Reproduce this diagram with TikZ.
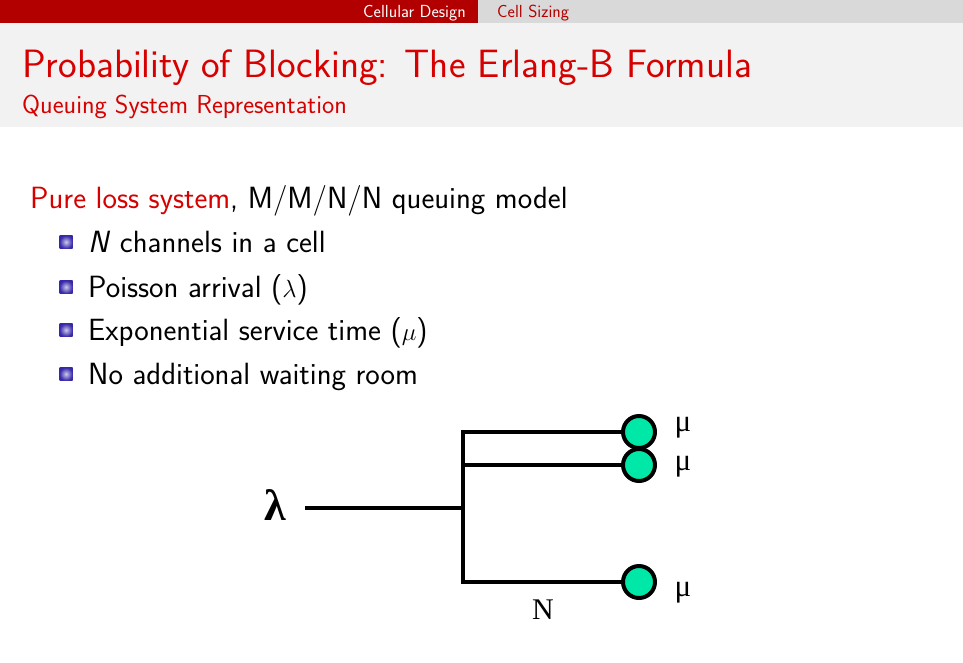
\documentclass[tikz,border=0pt]{standalone}
\usepackage{fontspec}
\newfontfamily\figfont{Liberation Serif}
\usetikzlibrary{positioning}
\definecolor{barred}{RGB}{178,0,0}
\definecolor{titlered}{RGB}{215,0,0}
\definecolor{bargray}{RGB}{217,217,217}
\definecolor{titlebg}{RGB}{242,242,242}
\definecolor{servergreen}{RGB}{0,232,168}
\definecolor{bulletblue}{RGB}{55,40,170}

\begin{document}
\begin{tikzpicture}[
  x=1pt,y=-1pt,
  font=\sffamily,
  bartext/.style={anchor=base west,inner sep=0pt,font=\sffamily\fontsize{17.5}{19}\selectfont},
  headline/.style={anchor=base west,inner sep=0pt,text=titlered},
  bodytext/.style={anchor=base west,inner sep=0pt,font=\sffamily\fontsize{30.7}{34}\selectfont},
  bulletsq/.style={rectangle,minimum size=13pt,inner sep=0pt,
                   inner color=bulletblue!25!white,outer color=bulletblue},
  server/.style={draw,circle,line width=4pt,fill=servergreen,minimum size=32pt,inner sep=0pt},
  figlabel/.style={inner sep=0pt,font=\figfont\fontsize{31}{33}\selectfont},
  wire/.style={line width=3.5pt}
]
\useasboundingbox (0,0) rectangle (963,662);
\fill[white] (0,0) rectangle (963,662);

% headline and frame title
\fill[titlebg] (0,23) rectangle (963,127);
\fill[barred] (0,0) rectangle (478,23);
\fill[bargray] (478,0) rectangle (963,23);
\node[bartext,text=white] (sec) at (363,17) {Cellular Design};
\node[bartext,text=barred] (subsec) at (497,17) {Cell Sizing};
\node[headline,font=\sffamily\fontsize{39.5}{42}\selectfont] (title) at (22,77)
  {Probability of Blocking: The Erlang-B Formula};
\node[headline,font=\sffamily\fontsize{26}{29}\selectfont] (subtitle) at (22,113)
  {Queuing System Representation};

% body
\node[bodytext] (intro) at (30,208)
  {\textcolor{titlered}{Pure loss system}, M/M/N/N queuing model};
\foreach \y/\txt [count=\i] in {
    252/{\textit{N} channels in a cell},
    297/{Poisson arrival ($\lambda$)},
    340/{Exponential service time ($\mu$)},
    384/{No additional waiting room}} {
  \node[bulletsq] (b\i) at (66,\y-10) {};
  \node[bodytext] (item\i) at (88,\y) {\txt};
}

% queuing system
\node[server] (s1) at (639,432) {};
\node[server] (s2) at (639,465) {};
\node[server] (sN) at (639,582) {};
\coordinate (t1) at (463,432);
\coordinate (t2) at (463,465);
\coordinate (tin) at (463,508);
\coordinate (tN) at (463,582);
\coordinate (in) at (305,508);
\node[figlabel,font=\figfont\bfseries\fontsize{44}{46}\selectfont] (lam) at (275,505) {λ};
\draw[wire] (s1) -- (t1) -- (tN) -- (sN);
\draw[wire] (t2) -- (s2);
\draw[wire] (in) -- (tin);
\node[figlabel] (mu1) at (683,428) {μ};
\node[figlabel] (mu2) at (683,467) {μ};
\node[figlabel] (muN) at (683,593) {μ};
\node[figlabel,font=\figfont\fontsize{30}{32}\selectfont] (nlab) at (543,610) {N};
\end{tikzpicture}
\end{document}
